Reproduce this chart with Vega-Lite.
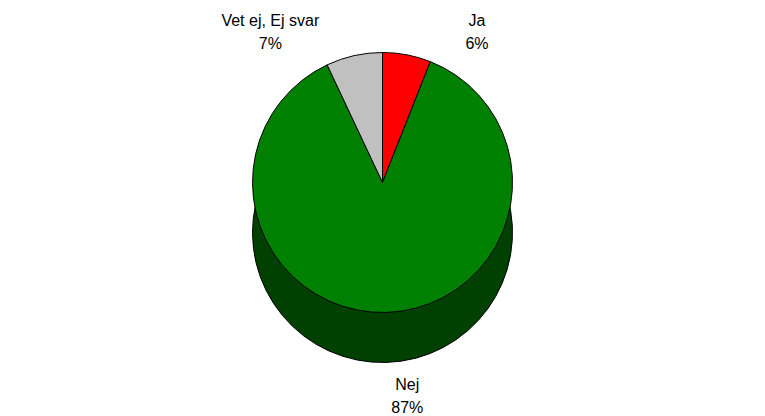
{
  "$schema": "https://vega.github.io/schema/vega-lite/v6.json",
  "width": 765,
  "height": 416,
  "autosize": {"type": "fit", "contains": "padding"},
  "padding": 0,
  "config": {"view": {"stroke": null}},
  "data": {
    "values": [
      {"category": "Ja", "value": 6, "label": "Ja\n6%", "idx": 1},
      {"category": "Nej", "value": 87, "label": "Nej\n87%", "idx": 2},
      {"category": "Vet ej, Ej svar", "value": 7, "label": "Vet ej, Ej svar\n7%", "idx": 3}
    ]
  },
  "encoding": {
    "theta": {"field": "value", "type": "quantitative", "stack": true},
    "order": {"field": "idx", "type": "quantitative"}
  },
  "layer": [
    {
      "mark": {"type": "arc", "radius": 130, "yOffset": 25, "fill": "#004000", "stroke": "#000000", "strokeWidth": 1},
      "encoding": {"detail": {"field": "category"}}
    },
    {
      "mark": {"type": "arc", "radius": 130, "yOffset": -25, "stroke": "#000000", "strokeWidth": 1, "fillOpacity": 1},
      "encoding": {
        "color": {
          "field": "category",
          "type": "nominal",
          "scale": {"domain": ["Ja", "Nej", "Vet ej, Ej svar"], "range": ["#FF0000", "#008000", "#C0C0C0"]},
          "legend": null
        }
      }
    },
    {
      "mark": {"type": "text", "radius": 152, "yOffset": -25, "dx": 66, "dy": -12, "align": "center", "lineBreak": "\n", "font": "Liberation Sans", "fontSize": 16, "color": "#000000", "baseline": "middle", "lineHeight": 23},
      "encoding": {
        "detail": {"field": "category"},
        "text": {"field": "label"},
        "opacity": {"condition": {"test": "datum.category === 'Ja'", "value": 1}, "value": 0}
      }
    },
    {
      "mark": {"type": "text", "radius": 152, "yOffset": -25, "dx": -79, "dy": -13, "align": "center", "lineBreak": "\n", "font": "Liberation Sans", "fontSize": 16, "color": "#000000", "baseline": "middle", "lineHeight": 23},
      "encoding": {
        "detail": {"field": "category"},
        "text": {"field": "label"},
        "opacity": {"condition": {"test": "datum.category === 'Vet ej, Ej svar'", "value": 1}, "value": 0}
      }
    },
    {
      "mark": {"type": "text", "radius": 152, "yOffset": 25, "dx": 20, "dy": 1, "align": "center", "lineBreak": "\n", "font": "Liberation Sans", "fontSize": 16, "color": "#000000", "baseline": "middle", "lineHeight": 23},
      "encoding": {
        "detail": {"field": "category"},
        "text": {"field": "label"},
        "opacity": {"condition": {"test": "datum.category === 'Nej'", "value": 1}, "value": 0}
      }
    }
  ]
}
